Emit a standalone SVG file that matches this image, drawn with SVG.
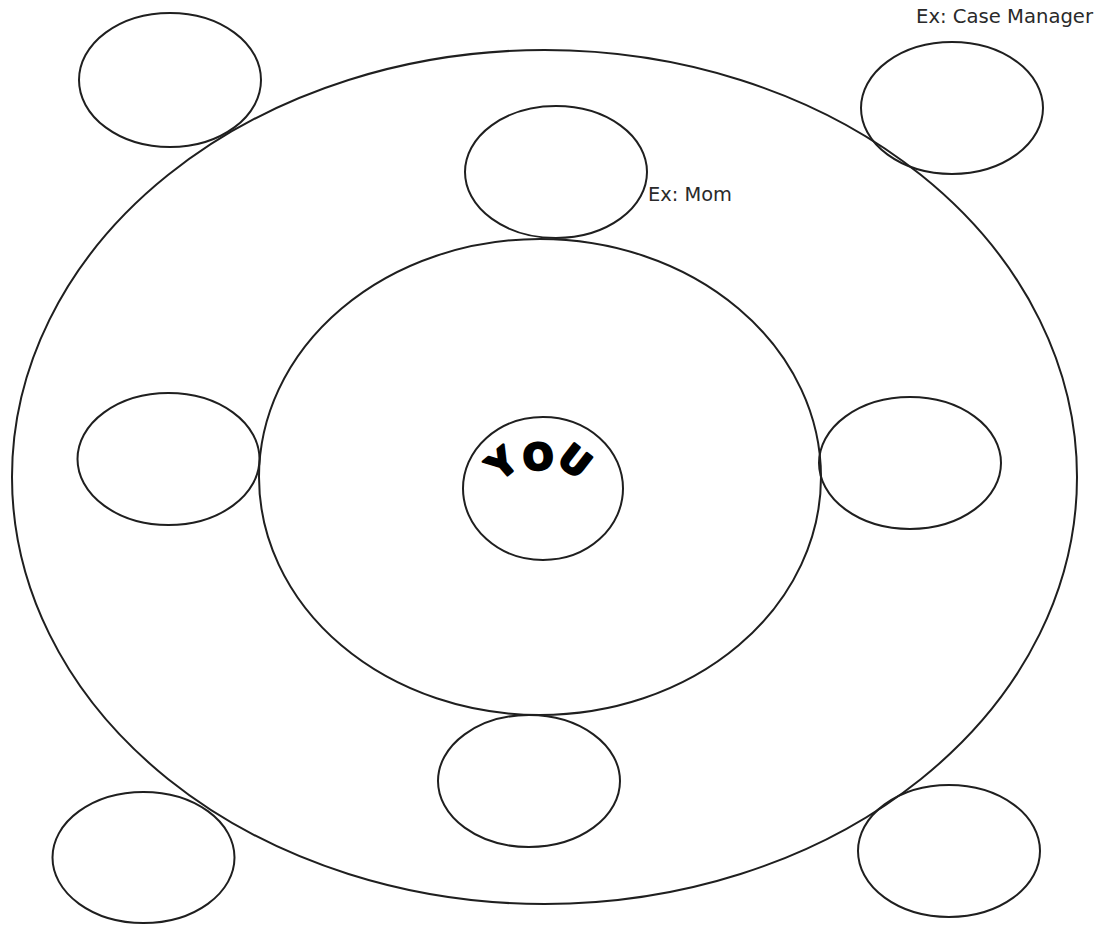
<svg xmlns="http://www.w3.org/2000/svg" width="1097" height="926" viewBox="0 0 1097 926">
  <style>
    .ring { fill: none; stroke: #1f1f1f; stroke-width: 2; }
    .label { font-family: "DejaVu Sans", "Liberation Sans", sans-serif; font-size: 19px; fill: #2a2a2a; }
    .you { font-family: "DejaVu Sans", "Liberation Sans", sans-serif; font-weight: bold; font-size: 36px; fill: #000; stroke: #000; stroke-width: 2.5; stroke-linejoin: round; text-anchor: middle; }
  </style>
  <rect width="1097" height="926" fill="#fff"/>
  <g id="outer-ring"><ellipse class="ring" cx="544.5" cy="477" rx="532.5" ry="427"/></g>
  <g id="middle-ring"><ellipse class="ring" cx="540" cy="477" rx="281" ry="238"/></g>
  <g id="you">
    <ellipse class="ring" cx="543" cy="488.5" rx="80" ry="71.5"/>
    <text class="you" transform="translate(510,473) rotate(-40)">Y</text>
    <text class="you" transform="translate(539,469.5) rotate(-4)">O</text>
    <text class="you" transform="translate(567,471) rotate(38)">U</text>
  </g>
  <g id="node-top-center">
    <ellipse class="ring" cx="556" cy="172" rx="91" ry="66"/>
    <text class="label" x="648" y="201" textLength="84" lengthAdjust="spacingAndGlyphs">Ex: Mom</text>
  </g>
  <g id="node-top-left"><ellipse class="ring" cx="170" cy="80" rx="91" ry="67"/></g>
  <g id="node-top-right">
    <ellipse class="ring" cx="952" cy="108" rx="91" ry="66"/>
    <text class="label" x="916" y="23" textLength="177" lengthAdjust="spacingAndGlyphs">Ex: Case Manager</text>
  </g>
  <g id="node-mid-left"><ellipse class="ring" cx="168.5" cy="459" rx="91" ry="66"/></g>
  <g id="node-mid-right"><ellipse class="ring" cx="910" cy="463" rx="91" ry="66"/></g>
  <g id="node-bottom-center"><ellipse class="ring" cx="529" cy="781" rx="91" ry="66"/></g>
  <g id="node-bottom-left"><ellipse class="ring" cx="143.5" cy="857.5" rx="91" ry="65.5"/></g>
  <g id="node-bottom-right"><ellipse class="ring" cx="949" cy="851" rx="91" ry="66"/></g>
  <g id="connectors"/>
</svg>
